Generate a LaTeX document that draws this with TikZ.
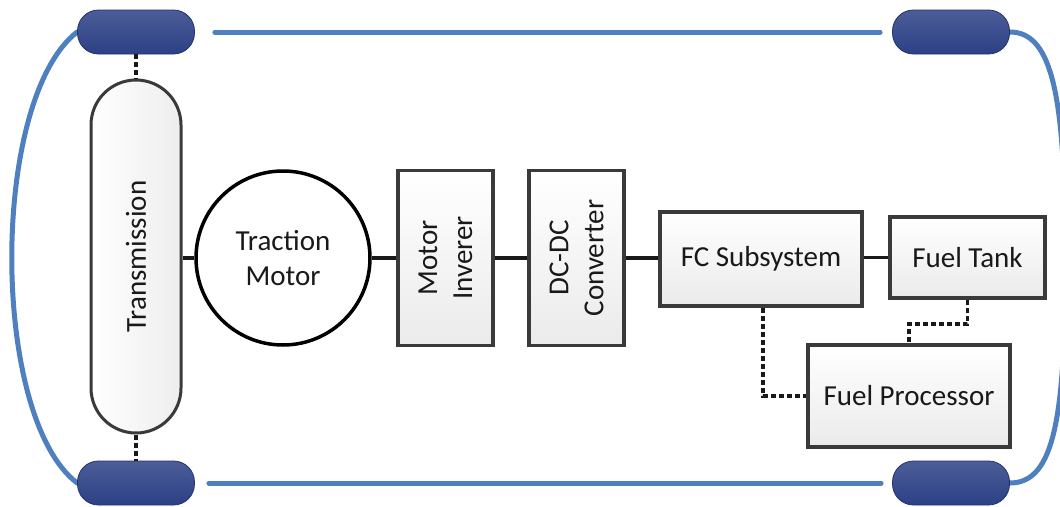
\documentclass[tikz,border=0pt]{standalone}
\usepackage{fontspec}
\setmainfont{Carlito}
\usetikzlibrary{shapes.misc}
\pgfdeclarelayer{background}
\pgfsetlayers{background,main}
\definecolor{wheelC}{HTML}{2C4085}
\definecolor{wheelB}{HTML}{22336C}
\definecolor{bodyC}{HTML}{4E7FBF}
\definecolor{boxB}{HTML}{3A3A3A}
\begin{document}
\begin{tikzpicture}[x=1pt,y=-1pt,
  lbl/.style={font=\fontsize{29}{35}\selectfont, text=black!90, align=center},
  wheel/.style={draw=wheelB, line width=0.8pt, top color=wheelC!85!white, bottom color=wheelC, rounded corners=21pt, minimum width=117pt, minimum height=44pt, inner sep=0pt},
  box/.style={lbl, draw=boxB, line width=3.5pt, top color=white, bottom color=black!8, inner sep=0pt},
  conn/.style={line width=3.8pt, black!90},
  dsh/.style={line width=3.8pt, black!90, dash pattern=on 5pt off 3pt},
  body/.style={line width=5pt, bodyC, line cap=round}
]
\useasboundingbox (0,0) rectangle (1060,506);
% wheels
\node[wheel] (wTL) at (136,32) {};
\node[wheel] (wTR) at (951,32) {};
\node[wheel] (wBL) at (136,483) {};
\node[wheel] (wBR) at (951,483) {};
% components
\node[box, rounded rectangle, rotate=90, minimum width=353pt, minimum height=90pt, line width=3pt, left color=white, right color=black!7] (trans) at (136,256.5) {Transmission};
\node[lbl, circle, draw=black, line width=3.5pt, fill=white, minimum size=174pt, inner sep=0pt] (motor) at (283,258) {Traction\\Motor};
\node[box, rotate=90, minimum width=175pt, minimum height=95pt] (mi) at (445.5,258) {Motor\\Inverer};
\node[box, rotate=90, minimum width=175pt, minimum height=95pt] (dc) at (576.5,258) {DC-DC\\Converter};
\node[box, minimum width=202pt, minimum height=94pt] (fc) at (761,259) {FC Subsystem};
\node[box, minimum width=155pt, minimum height=81pt] (ft) at (967.5,257.5) {Fuel Tank};
\node[box, minimum width=202pt, minimum height=102pt] (fp) at (909,396) {Fuel Processor};
% solid connectors
\draw[conn] (motor.west) -- (motor.west -| trans.south);
\draw[conn] (motor.east) -- (motor.east -| mi.north);
\draw[conn] (mi.south) -- (dc.north);
\draw[conn] (dc.south) -- (dc.south -| fc.west);
\draw[conn] (fc.east |- ft.west) -- (ft.west);
% dashed connectors
\draw[dsh] (wTL.south) -- (trans.east);
\draw[dsh] (trans.west) -- (wBL.north);
\draw[dsh] ([xshift=2pt]fc.south) |- (fp.west);
\draw[dsh] (ft.south) -- ++(0,24) -| (fp.north);
% body outline
\begin{pgfonlayer}{background}
\draw[body] ([xshift=20pt]wTL.east) -- ([xshift=-12pt]wTR.west);
\draw[body] ([xshift=14pt]wBL.east) -- ([xshift=-11pt]wBR.west);
\draw[body] (wTL.west) .. controls (-10,100) and (-10,416) .. (wBL.west);
\draw[body] (wTR.east) .. controls (1050,32) and (1063,90) .. (1065,220) -- (1065,300) .. controls (1063,430) and (1050,483) .. (wBR.east);
\end{pgfonlayer}
\end{tikzpicture}
\end{document}
